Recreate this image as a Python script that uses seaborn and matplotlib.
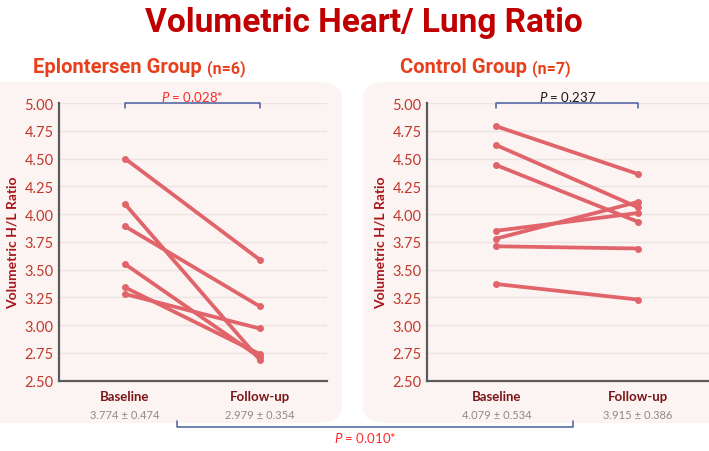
import numpy as np
import pandas as pd
import matplotlib
matplotlib.use("Agg")
import matplotlib.pyplot as plt
import seaborn as sns
from matplotlib.patches import FancyBboxPatch
from matplotlib.text import Annotation
from matplotlib import font_manager as fm

# ---------------- data ----------------
timepoints = ["Baseline", "Follow-up"]
eplon_baseline = [4.50, 4.09, 3.89, 3.55, 3.34, 3.28]
eplon_followup = [3.59, 2.69, 3.17, 2.71, 2.74, 2.97]
ctrl_baseline = [4.79, 4.62, 4.44, 3.85, 3.78, 3.71, 3.37]
ctrl_followup = [4.36, 4.06, 3.93, 4.01, 4.11, 3.69, 3.23]
eplon_stats = ["3.774 \u00b1 0.474", "2.979 \u00b1 0.354"]
ctrl_stats = ["4.079 \u00b1 0.534", "3.915 \u00b1 0.386"]
p_within = ["0.028*", "0.237"]
p_between = "0.010*"
yticks = [2.50, 2.75, 3.00, 3.25, 3.50, 3.75, 4.00, 4.25, 4.50, 4.75, 5.00]

sns.set_theme(style="white")
avail = {f.name for f in fm.fontManager.ttflist}
cond = "Roboto" if "Roboto" in avail else "Liberation Sans"
body = "Lato" if "Lato" in avail else "DejaVu Sans"
plt.rcParams["font.family"] = [body, "DejaVu Sans"]
plt.rcParams["mathtext.fontset"] = "custom"
plt.rcParams["mathtext.it"] = f"{body}:italic"
plt.rcParams["mathtext.rm"] = body
plt.rcParams["mathtext.bf"] = f"{body}:bold"

LINE = "#e06469"
TICK = "#c0392b"
YLAB = "#a8161b"
XLAB = "#7a1618"
GRAYTXT = "#8a8a8a"
BRACKET = "#4a5f9e"
PRED = "#ff2a2a"

fig = plt.figure(figsize=(7.09, 4.52), dpi=100)
W, H = 709, 452

def fx(px):
    return px / W

def fy(py):
    return 1 - py / H

# panel backgrounds
for (x0, x1) in [(-20, 342), (363, 740)]:
    p = FancyBboxPatch((fx(x0), fy(424)), fx(x1) - fx(x0), fy(83) - fy(424),
                       boxstyle="round,pad=0,rounding_size=0.035",
                       transform=fig.transFigure, facecolor="#fcf4f2",
                       edgecolor="none", zorder=-5)
    fig.add_artist(p)

def long_df(b, f):
    rows = []
    for i, (vb, vf) in enumerate(zip(b, f)):
        rows.append({"subject": i, "time": timepoints[0], "value": vb})
        rows.append({"subject": i, "time": timepoints[1], "value": vf})
    return pd.DataFrame(rows)

panels = [
    (59, 327, eplon_baseline, eplon_followup, eplon_stats, p_within[0], PRED),
    (427, 709, ctrl_baseline, ctrl_followup, ctrl_stats, p_within[1], "#1a1a1a"),
]
for (l, r, b, f, stats, pv, pcol) in panels:
    ax = fig.add_axes([fx(l), fy(381.7), fx(r) - fx(l), fy(104) - fy(381.7)])
    ax.set_zorder(1)
    ax.patch.set_alpha(0)
    df = long_df(b, f)
    sns.lineplot(data=df, x="time", y="value", units="subject", estimator=None,
                 color=LINE, linewidth=2.7, marker="o", markersize=5,
                 markeredgewidth=0, ax=ax, zorder=3)
    ax.set_ylim(2.5, 5.0)
    ax.set_xlim(-0.49, 1.5)
    ax.set_yticks(yticks)
    ax.set_yticklabels([f"{v:.2f}" for v in yticks], color=TICK, fontsize=10.5)
    ax.set_xticks([0, 1])
    ax.set_xticklabels(timepoints, color=XLAB, fontsize=9.5, fontweight="bold")
    ax.tick_params(axis="y", direction="in", length=4, color="#aaaaaa", pad=4)
    ax.tick_params(axis="x", direction="in", length=4, color="#aaaaaa", pad=7)
    ax.grid(axis="y", color="#ece4e2", linewidth=1)
    for s in ["top", "right"]:
        ax.spines[s].set_visible(False)
    for s in ["left", "bottom"]:
        ax.spines[s].set_color("#5a5a5a")
        ax.spines[s].set_linewidth(1.6)
    ax.set_xlabel("")
    ax.set_ylabel("Volumetric H/L Ratio", color=YLAB, fontsize=10,
                  fontweight="bold", labelpad=4)
    for i, s in enumerate(stats):
        ax.text(i, -0.12, s, transform=ax.get_xaxis_transform(),
                ha="center", va="center", fontsize=8, color=GRAYTXT)
    # within-group bracket
    ax.plot([0, 0, 1, 1], [4.955, 5.0, 5.0, 4.955], color=BRACKET, lw=1.1,
            clip_on=False, zorder=4)
    ax.text(0.5, 5.06, "$\\it{P}$ = " + pv, ha="center", va="center",
            fontsize=9.5, color=pcol)

# between-group bracket
yb, yt = fy(427.7), fy(422)
fig.add_artist(plt.Line2D([fx(176.7), fx(176.7), fx(572.7), fx(572.7)],
                          [yt, yb, yb, yt], transform=fig.transFigure,
                          color=BRACKET, lw=1.1))
fig.text(fx(365), fy(438), "$\\it{P}$ = " + p_between, ha="center", va="center",
         fontsize=9.5, color=PRED)

# titles
fig.text(fx(364), fy(23), "Volumetric Heart/ Lung Ratio", ha="center",
         va="center", fontsize=24, fontweight="bold", color="#c00000",
         family=[cond, "DejaVu Sans"])
for (x, name, n) in [(33, "Eplontersen Group ", "(n=6)"),
                     (400, "Control Group ", "(n=7)")]:
    t = fig.text(fx(x), fy(73), name, ha="left", va="baseline", fontsize=14.5,
                 fontweight="bold", color="#e8401c", family=[cond, "DejaVu Sans"])
    a = Annotation(n, xy=(1, 0), xycoords=t, ha="left", va="bottom",
                   fontsize=11.5, fontweight="bold", color="#e8401c",
                   family=[cond, "DejaVu Sans"], annotation_clip=False)
    fig.add_artist(a)

fig.savefig("out.png", dpi=100)
